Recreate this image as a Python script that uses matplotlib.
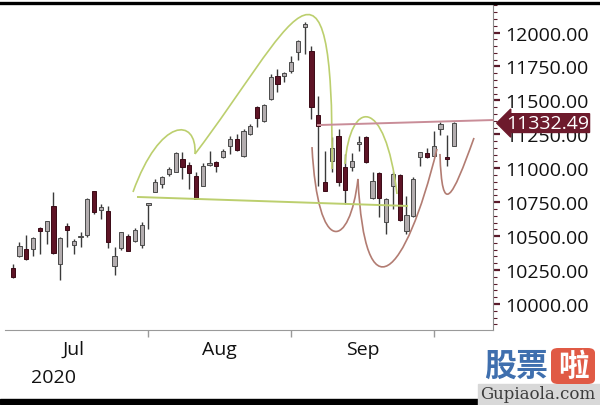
import matplotlib

matplotlib.use("Agg")
import matplotlib.pyplot as plt
import numpy as np
import pandas as pd
from matplotlib.lines import Line2D
from matplotlib.patches import FancyBboxPatch, PathPatch, Rectangle
from matplotlib.path import Path
from matplotlib.ticker import MultipleLocator

plt.rcParams["font.family"] = ["Open Sans", "DejaVu Sans"]

# trading days Jul 2 - Oct 5 2020 (Jul 3 and Sep 7 closed)
dates = pd.bdate_range("2020-07-02", "2020-10-05")
dates = dates[~dates.isin(pd.to_datetime(["2020-07-03", "2020-09-07"]))]

open_ = [
    10265, 10353, 10405, 10405, 10559, 10537, 10722, 10294, 10574, 10434,
    10493, 10508, 10832, 10692, 10685, 10279, 10412, 10501, 10464, 10434,
    10729, 10827, 10884, 10957, 10974, 11068, 11026, 10943, 10871, 11024,
    11046, 11080, 11166, 11215, 11088, 11252, 11449, 11350, 11510, 11682,
    11682, 11719, 11856, 12041, 11866, 11392, 10901, 11055, 11235, 11011,
    11007, 11179, 11228, 10778, 10965, 10606, 10871, 10950, 10540, 10650,
    11080, 11110, 11092, 11289, 11080, 11166,
]
high = [
    10294, 10456, 10508, 10490, 10567, 10614, 10825, 10490, 10596, 10478,
    10530, 10780, 10835, 10736, 10722, 10419, 10533, 10515, 10559, 10604,
    10744, 10921, 10943, 11009, 11120, 11120, 11046, 10972, 11038, 11127,
    11053, 11142, 11237, 11252, 11289, 11326, 11461, 11473, 11694, 11731,
    11711, 11827, 11947, 12075, 11903, 11534, 11129, 11230, 11289, 11105,
    11112, 11240, 11240, 10974, 10974, 10780, 10970, 10955, 10797, 10933,
    11120, 11149, 11276, 11343, 11245, 11338,
]
low = [
    10191, 10346, 10325, 10353, 10368, 10442, 10368, 10176, 10419, 10368,
    10419, 10493, 10663, 10626, 10412, 10213, 10397, 10387, 10456, 10412,
    10552, 10825, 10854, 10943, 10972, 10921, 10847, 10770, 10869, 11016,
    10972, 11075, 11105, 11127, 11083, 11245, 11302, 11343, 11506, 11560,
    11638, 11702, 11800, 11842, 11363, 10871, 10830, 10970, 10871, 10736,
    10982, 11129, 11038, 10773, 10638, 10515, 10700, 10613, 10515, 10638,
    11019, 11073, 11088, 11245, 11019, 11162,
]
close = [
    10198, 10427, 10331, 10486, 10537, 10611, 10375, 10486, 10545, 10464,
    10501, 10773, 10677, 10714, 10456, 10353, 10530, 10390, 10545, 10582,
    10744, 10901, 10937, 10994, 11112, 11009, 10963, 10773, 11019, 11038,
    11016, 11129, 11215, 11136, 11276, 11313, 11368, 11466, 11674, 11621,
    11702, 11781, 11940, 12063, 11449, 11309, 10834, 11147, 10901, 10842,
    11055, 11191, 11044, 10908, 10778, 10773, 10957, 10621, 10655, 10921,
    11117, 11080, 11162, 11326, 11068, 11332.49,
]
last_price = 11332.49

y_ticks = [10000, 10250, 10500, 10750, 11000, 11250, 11500, 11750, 12000]
month_names = ["Jul", "Aug", "Sep"]

# hand-drawn pattern marks: (day index, price) control points
neckline = [(18.45, 10788), (58.07, 10722)]
resistance = [(44.96, 11318), (70.7, 11355)]
green_arcs = [
    [(17.72, 10825), (21.69, 11377), (27.14, 11377), (26.85, 11105)],
    [(26.85, 11105), (40.84, 12026), (47.32, 12910), (47.03, 10994)],
    [(48.94, 11031), (49.68, 11510), (54.83, 11547), (56.6, 10810)],
]
red_arcs = [
    [(44.08, 11156), (44.96, 10331), (49.67, 10405), (50.85, 10921)],
    [(50.85, 10921), (51.88, 9889), (57.78, 10184), (62.49, 11142)],
    [(62.93, 11105), (63.23, 10626), (64.70, 10773), (67.94, 11223)],
]

UP_FILL = "#b3adaf"
UP_EDGE = "#4a4a4a"
DOWN_FILL = "#5e1426"
DOWN_EDGE = "#3b0a16"
GREEN = "#bccf6e"
BROWN = "#b27c72"
PINK = "#c98d98"
MAROON = "#6d1a2c"


def main():
    fig = plt.figure(figsize=(6, 4.06), dpi=100)
    ax = fig.add_axes([5 / 600, 1 - 331 / 406, 488 / 600, 326 / 406])

    x = np.arange(len(dates))
    o = np.array(open_)
    c = np.array(close)
    up = c >= o

    ax.vlines(x, low, high, color="#3a3a3a", lw=1.0, zorder=2)
    ax.bar(
        x,
        np.abs(c - o),
        bottom=np.minimum(o, c),
        width=0.62,
        color=np.where(up, UP_FILL, DOWN_FILL),
        edgecolor=np.where(up, UP_EDGE, DOWN_EDGE),
        linewidth=0.7,
        zorder=2.5,
    )

    for arc in green_arcs:
        path = Path(arc, [Path.MOVETO, Path.CURVE4, Path.CURVE4, Path.CURVE4])
        ax.add_patch(PathPatch(path, fill=False, ec=GREEN, lw=1.2, zorder=3))
    for arc in red_arcs:
        path = Path(arc, [Path.MOVETO, Path.CURVE4, Path.CURVE4, Path.CURVE4])
        ax.add_patch(PathPatch(path, fill=False, ec=BROWN, lw=1.2, zorder=3))
    ax.plot(*zip(*neckline), color=GREEN, lw=1.4, zorder=3)
    ax.plot(*zip(*resistance), color=PINK, lw=1.4, zorder=3, clip_on=False)

    ax.set_xlim(-1.134, 70.74)
    ax.set_ylim(9808, 12210)

    for side in ["left", "top"]:
        ax.spines[side].set_visible(False)
    ax.spines["right"].set_color("#8c8c8c")
    ax.spines["bottom"].set_color("#9a9a9a")

    # y axis on the right
    ax.yaxis.tick_right()
    ax.set_yticks(y_ticks)
    ax.set_yticklabels([f"{v:.2f}" for v in y_ticks])
    ax.yaxis.set_minor_locator(MultipleLocator(50))
    ax.tick_params(axis="y", which="major", length=5, width=1.6,
                   color="#5a1a2a", pad=4, labelsize=14, labelcolor="#111111")
    ax.tick_params(axis="y", which="minor", length=3, width=0.8, color="#5a1a2a")

    # month ticks at month ends, labels centred between them
    month_end = [int(np.where(dates.month == m)[0][-1]) for m in (7, 8, 9)]
    ax.set_xticks(month_end)
    ax.set_xticklabels([])
    prev = [-2] + month_end[:-1]
    ax.set_xticks([(a + b) / 2 for a, b in zip(prev, month_end)], minor=True)
    ax.set_xticklabels(month_names, minor=True)
    ax.tick_params(axis="x", which="major", length=5, width=1, color="#9a9a9a")
    ax.tick_params(axis="x", which="minor", length=0, pad=7, labelsize=14,
                   labelcolor="#111111")
    ax.text(2.7, -0.145, "2020", transform=ax.get_xaxis_transform(),
            ha="left", va="center", fontsize=14, color="#111111")

    ax.text(
        1.027, last_price, f"{last_price:.2f}",
        transform=ax.get_yaxis_transform(),
        ha="left", va="center", color="white", fontsize=14,
        bbox=dict(boxstyle="larrow,pad=0.02", fc=MAROON, ec=MAROON),
        zorder=10, clip_on=False,
    )

    # frame bars
    fig.add_artist(Line2D([0, 1], [1 - 3.5 / 406] * 2, color="black",
                          lw=2.4, transform=fig.transFigure))
    fig.add_artist(Rectangle((0, 1 - 405 / 406), 478 / 600, 5 / 406,
                             color="black", transform=fig.transFigure))

    # watermark
    fig.add_artist(Rectangle((478 / 600, 0), 122 / 600, 21 / 406,
                             color="#d8d8d8", transform=fig.transFigure))
    fig.text(538 / 600, 1 - 395 / 406, "Gupiaola.com", ha="center", va="center",
             fontsize=12, color="#3c3c3c", family=["DejaVu Serif"])
    fig.text(516 / 600, 1 - 367 / 406, "股票", ha="center", va="center",
             fontsize=23, fontweight="bold", color="#3f6fae",
             family=["Noto Sans CJK SC"])
    fig.add_artist(FancyBboxPatch((551 / 600, 1 - 385 / 406), 44 / 600, 36 / 406,
                                  boxstyle="round,pad=0,rounding_size=0.012",
                                  fc="#e05a45", ec="none",
                                  transform=fig.transFigure))
    fig.text(573 / 600, 1 - 367 / 406, "啦", ha="center", va="center",
             fontsize=22, fontweight="bold", color="white",
             family=["Noto Sans CJK SC"])

    fig.savefig("out.png", dpi=100)
    plt.close(fig)


if __name__ == "__main__":
    main()
